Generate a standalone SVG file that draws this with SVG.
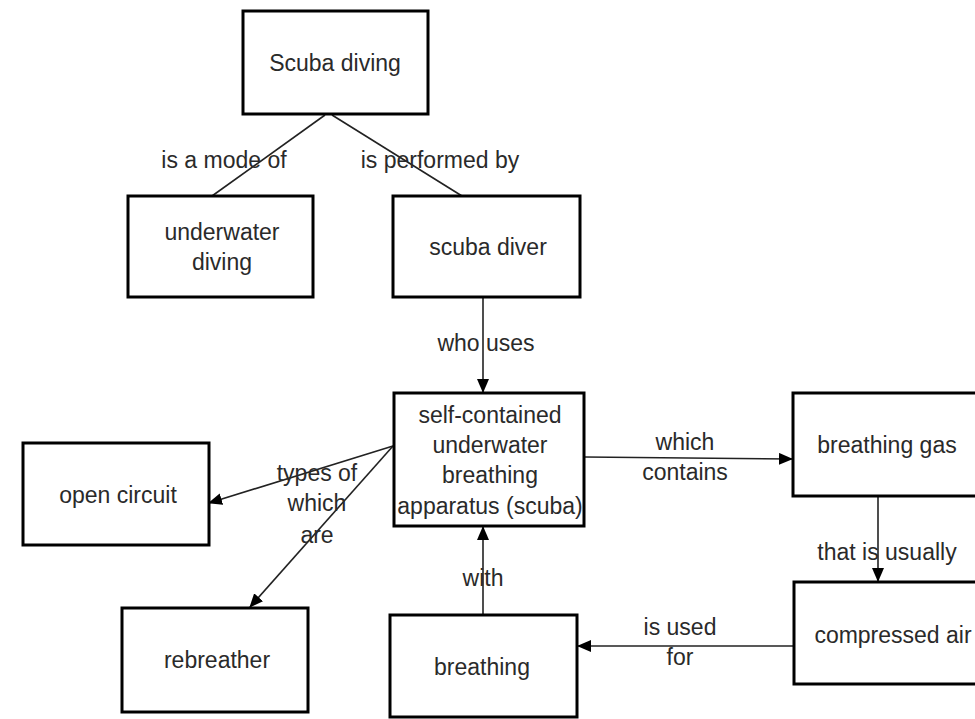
<svg xmlns="http://www.w3.org/2000/svg" width="975" height="719" viewBox="0 0 975 719">
<style>
.box{fill:#fff;stroke:#000;stroke-width:3}
.t{font-family:"Liberation Sans",Arial,sans-serif;font-size:23px;fill:#2a2a2a;text-anchor:middle;dominant-baseline:central}
.c{stroke:#222;stroke-width:1.6;fill:none}
</style>
<defs>
<marker id="ah" markerUnits="userSpaceOnUse" markerWidth="14" markerHeight="12" refX="13" refY="6" orient="auto">
<path d="M0,0 L14,6 L0,12 z" fill="#000"/>
</marker>
</defs>
<rect width="975" height="719" fill="#fff"/>
<g id="connectors">
<line class="c" x1="325" y1="115" x2="212" y2="196"/>
<line class="c" x1="332" y1="115" x2="462" y2="196"/>
<line class="c" x1="483" y1="297" x2="483" y2="392" marker-end="url(#ah)"/>
<line class="c" x1="393" y1="446" x2="209" y2="503" marker-end="url(#ah)"/>
<line class="c" x1="393" y1="446" x2="250" y2="607" marker-end="url(#ah)"/>
<line class="c" x1="585" y1="457" x2="792" y2="459" marker-end="url(#ah)"/>
<line class="c" x1="878" y1="496" x2="878" y2="581" marker-end="url(#ah)"/>
<line class="c" x1="794" y1="646" x2="578" y2="646" marker-end="url(#ah)"/>
<line class="c" x1="483" y1="615" x2="483" y2="527" marker-end="url(#ah)"/>
<text class="t" x="224" y="160">is a mode of</text>
<text class="t" x="440" y="160">is performed by</text>
<text class="t" x="486" y="343">who uses</text>
<text class="t" x="317" y="473">types of</text>
<text class="t" x="317" y="503">which</text>
<text class="t" x="317" y="535">are</text>
<text class="t" x="685" y="442">which</text>
<text class="t" x="685" y="472">contains</text>
<text class="t" x="887" y="552">that is usually</text>
<text class="t" x="680" y="627">is used</text>
<text class="t" x="680" y="657">for</text>
<text class="t" x="483" y="578">with</text>
</g>
<g id="n1"><rect class="box" x="243" y="11" width="185" height="103"/><text class="t" x="335" y="63">Scuba diving</text></g>
<g id="n2"><rect class="box" x="128" y="196" width="185" height="101"/><text class="t" x="222" y="232">underwater</text><text class="t" x="222" y="262">diving</text></g>
<g id="n3"><rect class="box" x="393" y="196" width="187" height="101"/><text class="t" x="488" y="247">scuba diver</text></g>
<g id="n4"><rect class="box" x="394" y="393" width="190" height="133"/><text class="t" x="490" y="415">self-contained</text><text class="t" x="490" y="445">underwater</text><text class="t" x="490" y="475">breathing</text><text class="t" x="490" y="506">apparatus (scuba)</text></g>
<g id="n5"><rect class="box" x="23" y="443" width="186" height="102"/><text class="t" x="118" y="495">open circuit</text></g>
<g id="n6"><rect class="box" x="122" y="608" width="186" height="104"/><text class="t" x="217" y="660">rebreather</text></g>
<g id="n7"><rect class="box" x="390" y="615" width="187" height="102"/><text class="t" x="482" y="667">breathing</text></g>
<g id="n8"><rect class="box" x="793" y="393" width="200" height="103"/><text class="t" x="887" y="445">breathing gas</text></g>
<g id="n9"><rect class="box" x="794" y="582" width="200" height="102"/><text class="t" x="893" y="635">compressed air</text></g>
</svg>
